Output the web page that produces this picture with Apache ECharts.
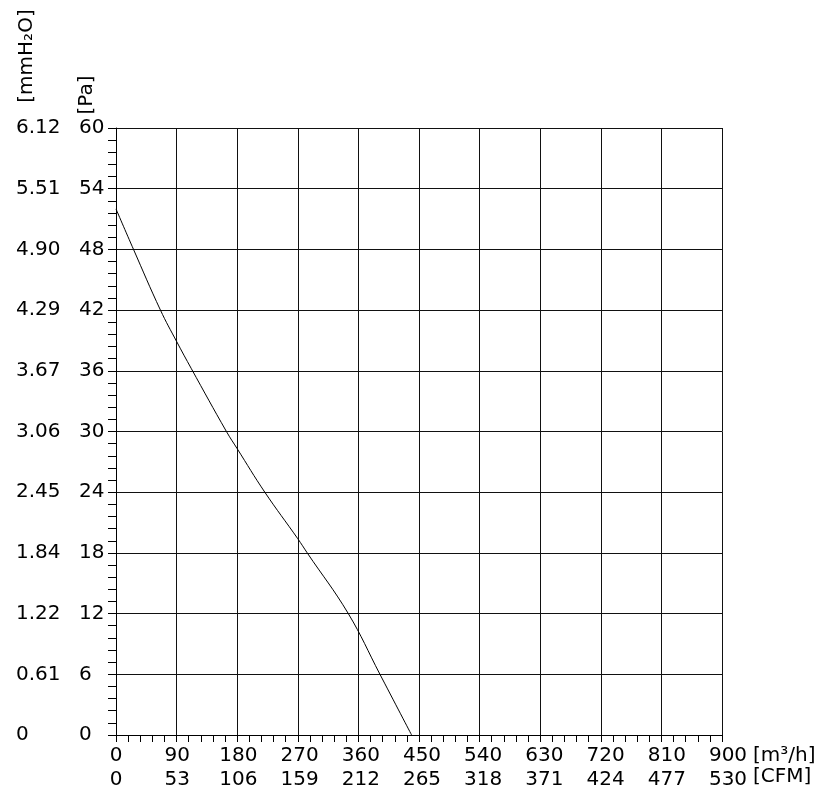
<!DOCTYPE html>
<html>
<head>
<meta charset="utf-8">
<script src="https://cdn.jsdelivr.net/npm/echarts@6/dist/echarts.min.js"></script>
<style>
html,body{margin:0;padding:0;background:#fff;}
#c{width:833px;height:798px;}
</style>
</head>
<body>
<div id="c"></div>
<script>
// ---- data ----
var flowTicks = [0, 90, 180, 270, 360, 450, 540, 630, 720, 810, 900];      // m3/h
var cfmTicks = ['0', '53', '106', '159', '212', '265', '318', '371', '424', '477', '530'];
var paTicks = [0, 6, 12, 18, 24, 30, 36, 42, 48, 54, 60];
var mmTicks = ['0', '0.61', '1.22', '1.84', '2.45', '3.06', '3.67', '4.29', '4.90', '5.51', '6.12'];
var curveFlow = [0, 26, 66, 90, 112, 164, 180, 221, 270, 284, 345, 392, 439];
var curvePa   = [52.0, 48, 42, 38.9, 36.2, 30, 28.3, 24, 19.4, 18, 12, 6, 0];

var FONT = 'DejaVu Sans';
var FS = 20;
var curve = curveFlow.map(function (x, i) { return [x, curvePa[i]]; });

var chart = echarts.init(document.getElementById('c'), null, {renderer: 'canvas'});
chart.setOption({
  animation: false,
  backgroundColor: '#fff',
  grid: [
    {left: 116, top: 128, width: 606, height: 607},
    {left: 116, top: 128, width: 612, height: 607}
  ],
  xAxis: [
    {
      gridIndex: 0, type: 'value', min: 0, max: 900, interval: 90,
      axisLine: {show: true, lineStyle: {color: '#000', width: 1}},
      axisTick: {show: true, inside: false, length: 7, lineStyle: {color: '#000'}},
      minorTick: {show: true, splitNumber: 5, length: 7, lineStyle: {color: '#000'}},
      splitLine: {show: true, lineStyle: {color: '#111', width: 1}},
      axisLabel: {show: false}
    },
    {
      gridIndex: 1, type: 'value', min: 0, max: 900, interval: 90,
      axisLine: {show: false}, axisTick: {show: false}, splitLine: {show: false},
      axisLabel: {show: true, margin: 11, color: '#000', fontFamily: FONT, fontSize: FS,
        formatter: function (v) { return String(v); }}
    },
    {
      gridIndex: 1, type: 'value', min: 0, max: 900, interval: 90, position: 'bottom', offset: 24,
      axisLine: {show: false}, axisTick: {show: false}, splitLine: {show: false},
      axisLabel: {show: true, margin: 11, color: '#000', fontFamily: FONT, fontSize: FS,
        formatter: function (v) { return cfmTicks[flowTicks.indexOf(v)]; }}
    }
  ],
  yAxis: [
    {
      gridIndex: 0, type: 'value', min: 0, max: 60, interval: 6,
      axisLine: {show: true, lineStyle: {color: '#000', width: 1}},
      axisTick: {show: true, inside: false, length: 8, lineStyle: {color: '#000'}},
      minorTick: {show: true, splitNumber: 5, length: 8, lineStyle: {color: '#000'}},
      splitLine: {show: true, lineStyle: {color: '#111', width: 1}},
      axisLabel: {show: true, margin: 37, align: 'left', color: '#000', fontFamily: FONT, fontSize: FS,
        formatter: function (v) { return String(paTicks[paTicks.indexOf(v)]); }}
    },
    {
      gridIndex: 0, type: 'value', min: 0, max: 60, interval: 6, position: 'left',
      axisLine: {show: false}, axisTick: {show: false}, splitLine: {show: false},
      axisLabel: {show: true, margin: 100, align: 'left', color: '#000', fontFamily: FONT, fontSize: FS,
        formatter: function (v) { return mmTicks[paTicks.indexOf(v)]; }}
    },
    {
      gridIndex: 1, type: 'value', min: 0, max: 60, show: false
    }
  ],
  series: [{
    type: 'line', xAxisIndex: 0, yAxisIndex: 0,
    data: curve, smooth: 0.4, showSymbol: false, symbol: 'none',
    lineStyle: {color: '#000', width: 1}
  }],
  graphic: [
    {type: 'text', x: 27, y: 56, rotation: Math.PI / 2,
      style: {text: '[mmH\u2082O]', fill: '#000', font: FS + 'px "' + FONT + '"', textAlign: 'center', textVerticalAlign: 'middle'}},
    {type: 'text', x: 87, y: 95, rotation: Math.PI / 2,
      style: {text: '[Pa]', fill: '#000', font: FS + 'px "' + FONT + '"', textAlign: 'center', textVerticalAlign: 'middle'}},
    {type: 'text', x: 753, y: 756,
      style: {text: '[m\u00B3/h]', fill: '#000', font: FS + 'px "' + FONT + '"', textAlign: 'left', textVerticalAlign: 'middle'}},
    {type: 'text', x: 753, y: 777,
      style: {text: '[CFM]', fill: '#000', font: FS + 'px "' + FONT + '"', textAlign: 'left', textVerticalAlign: 'middle'}}
  ]
});
</script>
</body>
</html>
